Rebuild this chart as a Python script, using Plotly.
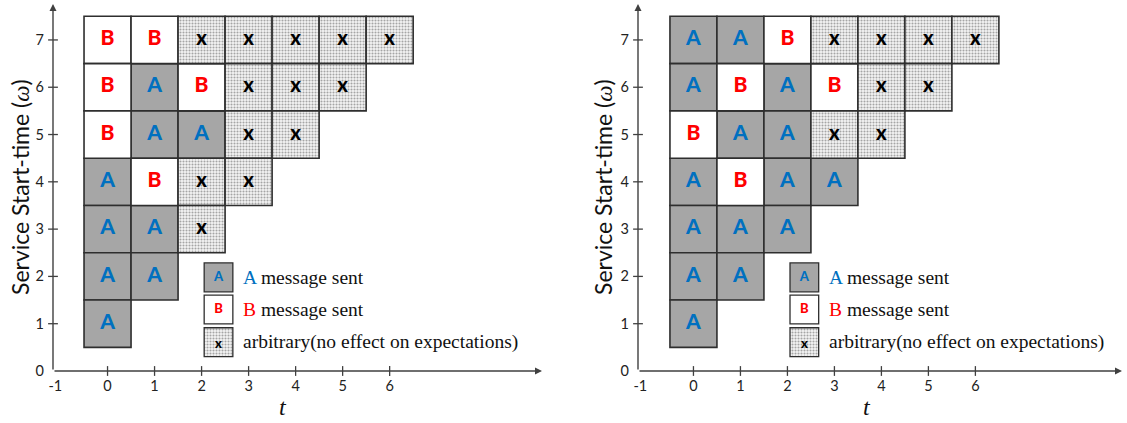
import plotly.graph_objects as go

# Message sent at each (service start-time ω, time t) cell.
# Row for ω holds entries for t = 0 .. ω-1; "x" marks an arbitrary cell.
omega_levels = [7, 6, 5, 4, 3, 2, 1]
left_rows = [
    ["B", "B", "x", "x", "x", "x", "x"],
    ["B", "A", "B", "x", "x", "x"],
    ["B", "A", "A", "x", "x"],
    ["A", "B", "x", "x"],
    ["A", "A", "x"],
    ["A", "A"],
    ["A"],
]
right_rows = [
    ["A", "A", "B", "x", "x", "x", "x"],
    ["A", "B", "A", "B", "x", "x"],
    ["B", "A", "A", "x", "x"],
    ["A", "B", "A", "A"],
    ["A", "A", "A"],
    ["A", "A"],
    ["A"],
]
x_tick_labels = ["-1", "0", "1", "2", "3", "4", "5", "6"]
y_tick_labels = ["0", "1", "2", "3", "4", "5", "6", "7"]
legend_codes = ["A", "B", "x"]
legend_texts = [
    "<span style='color:#0070C0'>A</span> message sent",
    "<span style='color:#FF0000'>B</span> message sent",
    "arbitrary(no effect on expectations)",
]

W, H = 1127, 423
SANS = "Lato"
SERIF = "Liberation Serif"
AXIS_COL = "#404040"
EDGE = "#2E2E2E"
LETTER_COL = {"A": "#0070C0", "B": "#FF0000", "x": "#000000"}

CELL_STYLE = {
    "A": dict(color="#A6A6A6", pattern=dict(shape="")),
    "B": dict(color="#FFFFFF", pattern=dict(shape="")),
    "x": dict(color="#FFFFFF",
              pattern=dict(shape=".", fgcolor="#555555", bgcolor="#F4F4F4",
                           size=3, solidity=0.4, fillmode="overlay")),
}

panels = [
    dict(rows=left_rows, xd=(53, 542), xr=(-1.16, 9.24), title_x=20, t_x=283),
    dict(rows=right_rows, xd=(638, 1122), xr=(-1.18, 9.12), title_x=603, t_x=867),
]
Y_RANGE = (0, 7.76)
Y_DOM = (1 - 371 / H, 1 - 4 / H)

fig = go.Figure()
annotations = []

# legend layout (data units of each panel)
LEG_X, LEG_W, LEG_H = 2.36, 0.61, 0.61
LEG_Y = [1.98, 1.30, 0.61]
LEG_TEXT_X = 2.84

for i, p in enumerate(panels, start=1):
    xa = "x" if i == 1 else f"x{i}"
    ya = "y" if i == 1 else f"y{i}"
    x0 = p["xr"][0]

    # collect cells by category
    cells = {c: dict(t=[], w=[]) for c in "ABx"}
    for w, row in zip(omega_levels, p["rows"]):
        for t, code in enumerate(row):
            cells[code]["t"].append(t)
            cells[code]["w"].append(w)

    for code in "ABx":
        st = CELL_STYLE[code]
        ts, ws = cells[code]["t"], cells[code]["w"]
        fig.add_trace(go.Bar(
            x=ts, y=[1] * len(ts), base=[w - 0.5 for w in ws], width=1,
            marker=dict(color=st["color"], pattern=st["pattern"],
                        line=dict(color=EDGE, width=1.6)),
            xaxis=xa, yaxis=ya, showlegend=False, hoverinfo="skip",
        ))
        fig.add_trace(go.Scatter(
            x=ts, y=ws, mode="text", text=[code] * len(ts),
            textfont=dict(family=SANS, size=21 if code != "x" else 20,
                          color=LETTER_COL[code], weight=900),
            xaxis=xa, yaxis=ya, showlegend=False, hoverinfo="skip",
        ))

    # legend boxes
    for code, ly, txt in zip(legend_codes, LEG_Y, legend_texts):
        st = CELL_STYLE[code]
        fig.add_trace(go.Bar(
            x=[LEG_X], y=[LEG_H], base=[ly - LEG_H / 2], width=LEG_W,
            marker=dict(color=st["color"], pattern=st["pattern"],
                        line=dict(color=EDGE, width=1.3)),
            xaxis=xa, yaxis=ya, showlegend=False, hoverinfo="skip",
        ))
        fig.add_trace(go.Scatter(
            x=[LEG_X], y=[ly - (0.05 if code == "x" else 0)], mode="text", text=[code],
            textfont=dict(family=SANS, size=13, color=LETTER_COL[code], weight=900),
            xaxis=xa, yaxis=ya, showlegend=False, hoverinfo="skip",
        ))
        annotations.append(dict(
            x=LEG_TEXT_X, y=ly, xref=xa, yref=ya, text=txt, showarrow=False,
            xanchor="left", yanchor="middle",
            font=dict(family=SERIF, size=19.5, color="#111111"),
        ))

    # tick marks crossing the axes
    xt = list(range(len(x_tick_labels) - 1))
    yt = list(range(1, len(y_tick_labels)))
    fig.add_trace(go.Scatter(
        x=xt, y=[0] * len(xt), mode="markers",
        marker=dict(symbol="line-ns", size=7, line=dict(color=AXIS_COL, width=1.3)),
        xaxis=xa, yaxis=ya, showlegend=False, hoverinfo="skip", cliponaxis=False,
    ))
    fig.add_trace(go.Scatter(
        x=[x0] * len(yt), y=yt, mode="markers",
        marker=dict(symbol="line-ew", size=7, line=dict(color=AXIS_COL, width=1.3)),
        xaxis=xa, yaxis=ya, showlegend=False, hoverinfo="skip", cliponaxis=False,
    ))

    # axes with arrowheads
    annotations.append(dict(x=p["xr"][1], y=0, ax=x0, ay=0, xref=xa, yref=ya,
                            axref=xa, ayref=ya, text="", showarrow=True,
                            arrowhead=2, arrowsize=1, arrowwidth=1.4,
                            arrowcolor=AXIS_COL))
    annotations.append(dict(x=x0, y=Y_RANGE[1], ax=x0, ay=0, xref=xa, yref=ya,
                            axref=xa, ayref=ya, text="", showarrow=True,
                            arrowhead=2, arrowsize=1, arrowwidth=1.4,
                            arrowcolor=AXIS_COL))

    # axis titles
    annotations.append(dict(
        x=p["title_x"] / W, y=1 - 187 / H, xref="paper", yref="paper",
        text="Service Start-time (<span style='font-family:Liberation Serif'><i>ω</i></span>)",
        textangle=-90, showarrow=False, xanchor="center", yanchor="middle",
        font=dict(family=SANS, size=23, color="#111111"),
    ))
    annotations.append(dict(
        x=p["t_x"] / W, y=1 - 407 / H, xref="paper", yref="paper",
        text="<i>t</i>", showarrow=False, xanchor="center", yanchor="middle",
        font=dict(family=SERIF, size=24, color="#111111"),
    ))

    xtv = [x0 + 0.05] + xt
    axis_common = dict(showgrid=False, zeroline=False, showline=False, ticks="",
                       automargin=False, fixedrange=True,
                       tickfont=dict(family=SANS, size=14.5, color="#222222"))
    fig.update_layout({
        ("xaxis" if i == 1 else f"xaxis{i}"): dict(
            domain=[p["xd"][0] / W, p["xd"][1] / W], range=list(p["xr"]),
            anchor=ya, tickvals=xtv, ticktext=x_tick_labels,
            ticklabelstandoff=4, **axis_common),
        ("yaxis" if i == 1 else f"yaxis{i}"): dict(
            domain=list(Y_DOM), range=list(Y_RANGE), anchor=xa,
            tickvals=list(range(len(y_tick_labels))), ticktext=y_tick_labels,
            ticklabelstandoff=8, **axis_common),
    })

fig.update_layout(
    width=W, height=H, margin=dict(l=0, r=0, t=0, b=0),
    paper_bgcolor="white", plot_bgcolor="rgba(0,0,0,0)",
    barmode="overlay", template="none",
    annotations=annotations,
)

fig.write_html("out.html")
